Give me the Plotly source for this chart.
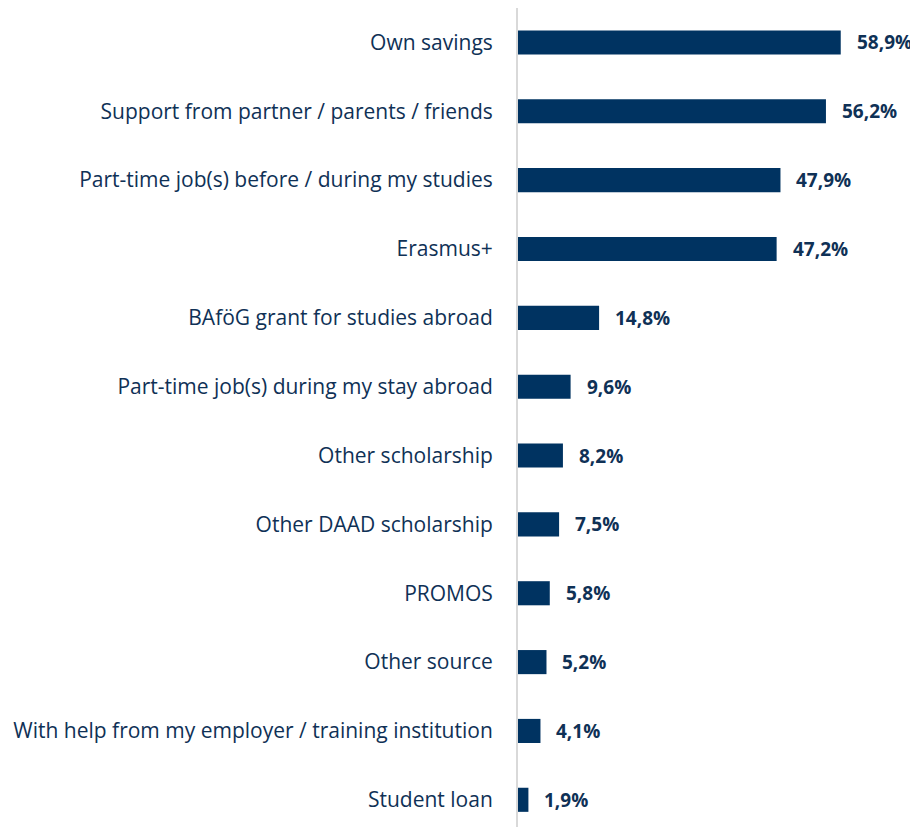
import plotly.graph_objects as go

categories = [
    "Own savings",
    "Support from partner / parents / friends",
    "Part-time job(s) before / during my studies",
    "Erasmus+",
    "BAföG grant for studies abroad",
    "Part-time job(s) during my stay abroad",
    "Other scholarship",
    "Other DAAD scholarship",
    "PROMOS",
    "Other source",
    "With help from my employer / training institution",
    "Student loan",
]
values = [58.9, 56.2, 47.9, 47.2, 14.8, 9.6, 8.2, 7.5, 5.8, 5.2, 4.1, 1.9]
labels = [f"{v:.1f}".replace(".", ",") + "%" for v in values]

navy = "#003361"
text_col = "#0f3156"

fig = go.Figure(go.Bar(
    x=values, y=categories, orientation="h",
    marker=dict(color=navy, line=dict(width=0)),
    width=0.35,
    hoverinfo="skip",
))

for c, v, t in zip(categories, values, labels):
    fig.add_annotation(x=v, y=c, text=f"<b>{t}</b>", showarrow=False,
                       xanchor="left", xshift=14,
                       font=dict(family="Open Sans", size=19, color=text_col))

# page body has 8px margin, so the figure is 8px smaller than the window
fig.update_layout(
    width=910, height=819,
    margin=dict(l=510, r=0, t=0, b=0),
    plot_bgcolor="white", paper_bgcolor="white",
    showlegend=False,
    font=dict(family="Open Sans", size=21, color=text_col),
)
fig.update_xaxes(range=[0, 73.0], visible=False, fixedrange=True)
fig.update_yaxes(
    range=[11.395, -0.5],
    showline=True, linecolor="#d9d9d9", linewidth=2,
    showgrid=False, zeroline=False,
    ticks="outside", ticklen=19, tickcolor="rgba(0,0,0,0)",
    tickfont=dict(family="Open Sans", size=21, color=text_col),
)

fig.write_html("out.html")
